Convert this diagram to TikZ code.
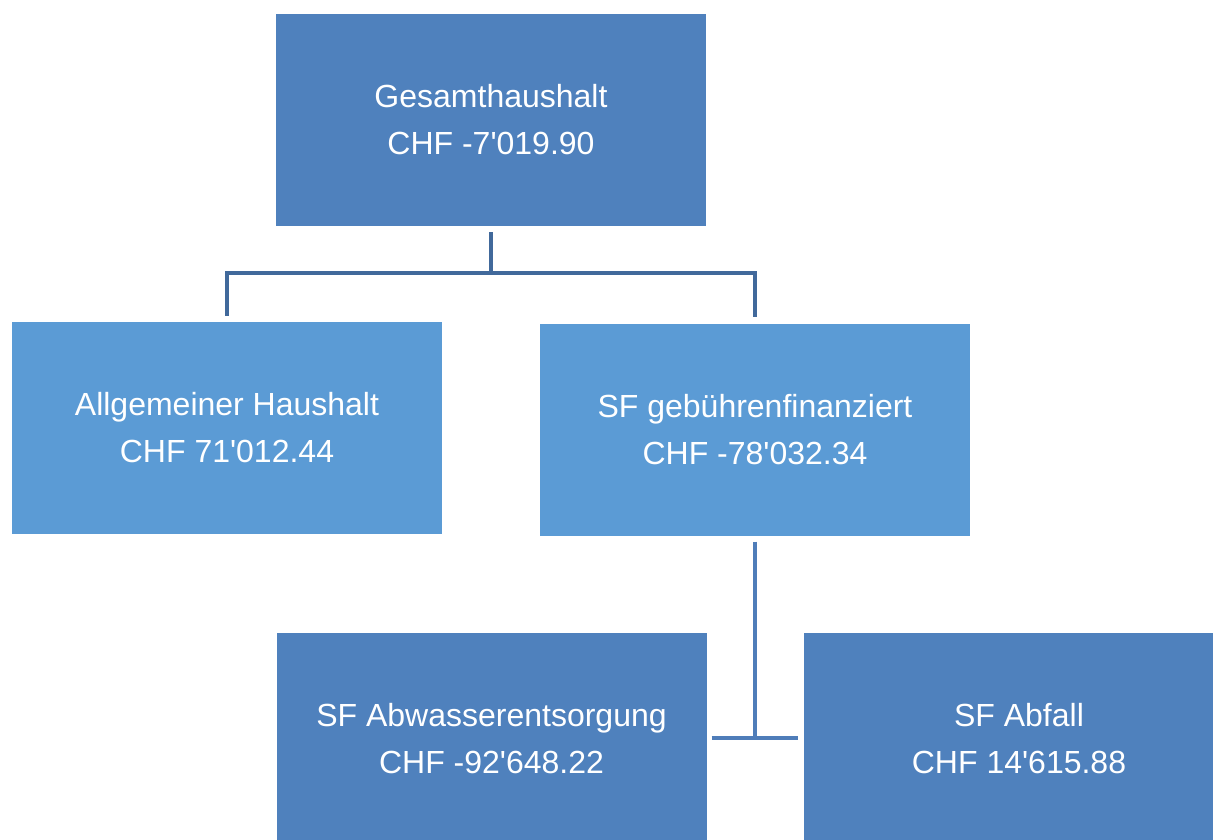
\documentclass[tikz,border=0pt]{standalone}
\usepackage{fontspec}
\setmainfont{Liberation Sans}
\usepackage{tikz}
\usetikzlibrary{positioning, calc}
\definecolor{boxDark}{RGB}{79, 129, 189}
\definecolor{boxLight}{RGB}{91, 155, 213}
\definecolor{lineDark}{RGB}{65, 105, 155}
\definecolor{lineMid}{RGB}{79, 125, 185}
\newcommand{\apo}{\textquotesingle}

\begin{document}
\begin{tikzpicture}[x=1pt, y=-1pt,
        unit/.style={minimum width=430pt, minimum height=212pt, inner sep=0pt,
            text=white, align=center, font=\fontsize{32}{47}\selectfont},
        link/.style={line width=4pt}]
        \useasboundingbox (0,0) rectangle (1213,840);
        \clip (0,0) rectangle (1213,840);

        \node[unit, fill=boxDark] (gesamt) at (491, 120) {Gesamthaushalt\\CHF -7\apo019.90};
        \node[unit, fill=boxLight] (allg) at (227, 428) {Allgemeiner Haushalt\\CHF 71\apo012.44};
        \node[unit, fill=boxLight] (sf) at (755, 429.5) {SF gebührenfinanziert\\CHF -78\apo032.34};
        \node[unit, fill=boxDark] (abw) at (491.5, 739) {SF Abwasserentsorgung\\CHF -92\apo648.22};
        \node[unit, fill=boxDark] (abf) at (1019, 739) {SF Abfall\\CHF 14\apo615.88};

        % Gesamthaushalt -> two parts
        \coordinate (split) at ($(gesamt.south)+(0,47)$);
        \draw[link, lineDark] ([yshift=-6pt]gesamt.south) -- (split);
        \draw[link, lineDark] (split) -| ([yshift=6pt]allg.north);
        \draw[link, lineDark] (split) -| ([yshift=6pt]sf.north);

        % SF -> Abwasser / Abfall
        \draw[link, lineMid] ([yshift=-6pt]sf.south) -- (sf.south |- abw.east);
        \draw[link, lineMid] ([xshift=5pt,yshift=1pt]abw.east) -- ([xshift=-6pt,yshift=1pt]abf.west);
\end{tikzpicture}
\end{document}
